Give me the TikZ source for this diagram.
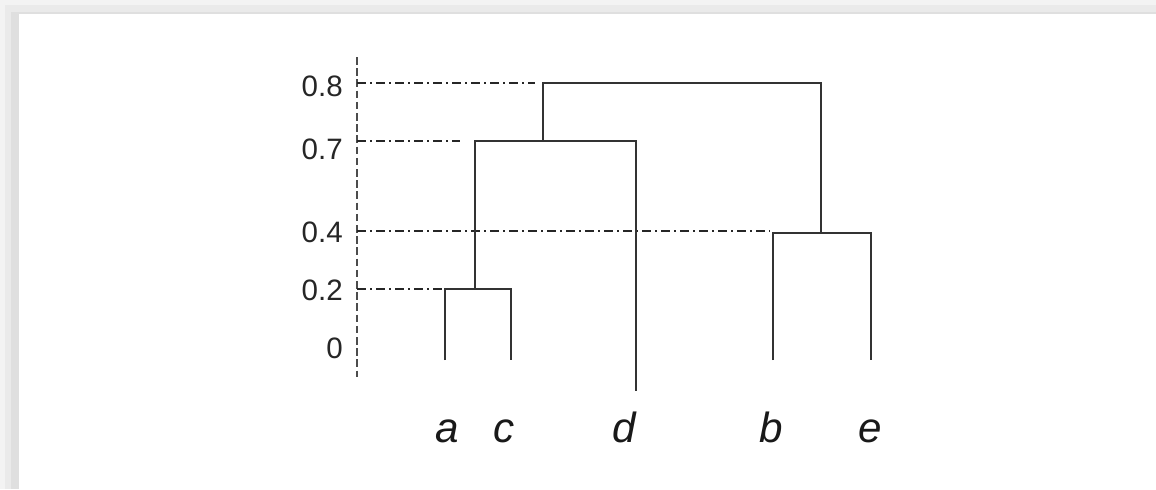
\documentclass[tikz,border=0pt]{standalone}
\usepackage{fontspec}
\setmainfont{Liberation Sans}
\definecolor{shadeA}{HTML}{F3F3F3}
\definecolor{shadeB}{HTML}{EAEAEA}
\definecolor{shadeC}{HTML}{DFDFDF}
\begin{document}
\begin{tikzpicture}[
  link/.style={line width=1.5pt, draw=black!80},
  guide/.style={line width=1pt, draw=black!85, dash pattern=on 0.225cm off 0.1cm on 0.05cm off 0.1cm},
  axisline/.style={line width=1.7pt, draw=black!70, dash pattern=on 0.19cm off 0.09cm},
  tick/.style={anchor=base east, inner sep=0pt, text=black!85, font=\fontsize{21}{21}\selectfont},
  leaf/.style={anchor=base, inner sep=0pt, text=black!90, font=\fontsize{30}{30}\selectfont\itshape}]
\useasboundingbox (0,0) rectangle (28.9,12.225);
\fill[shadeA] (0,0) rectangle (0.475,12.225);
\fill[shadeB] (0.125,0) rectangle (0.475,11.9);
\fill[shadeC] (0.275,0) rectangle (0.475,11.9);
\fill[shadeA] (0,11.875) rectangle (28.9,12.225);
\fill[shadeB] (0.125,11.875) rectangle (28.9,12.1);
\fill[shadeC] (0.275,11.875) rectangle (28.9,11.925);
\fill[white] (0.475,0) rectangle (28.9,11.875);
\coordinate (a) at (11.125,3.225);
\coordinate (c) at (12.775,3.225);
\coordinate (d) at (15.9,2.45);
\coordinate (b) at (19.325,3.225);
\coordinate (e) at (21.775,3.225);
\coordinate (m1) at (11.875,5.0);
\coordinate (m2) at (13.575,8.7);
\coordinate (m3) at (20.525,6.4);
\coordinate (root) at (17.0,10.15);
\coordinate (axtop) at (8.925,10.8);
\coordinate (axbot) at (8.925,2.8);
\coordinate (t8) at (8.925,10.15);
\coordinate (t7) at (8.925,8.7);
\coordinate (t4) at (8.925,6.45);
\coordinate (t2) at (8.925,5.0);
\coordinate (g8) at (13.375,10.15);
\coordinate (g7) at (11.5,8.7);
\coordinate (g4) at (19.25,6.45);
\coordinate (g2) at (11.125,5.0);
\draw[axisline] (axtop) -- (axbot);
\draw[guide] (t8) -- (g8);
\draw[guide] (t7) -- (g7);
\draw[guide] (t4) -- (g4);
\draw[guide] (t2) -- (g2);
\draw[link] (a) |- (m1) -| (c);
\draw[link] (m1) |- (m2) -| (d);
\draw[link] (b) |- (m3) -| (e);
\draw[link] (m2) |- (root) -| (m3);
\node[tick] (y8) at (8.575,9.825) {0.8};
\node[tick] (y7) at (8.575,8.25) {0.7};
\node[tick] (y4) at (8.575,6.175) {0.4};
\node[tick] (y2) at (8.575,4.725) {0.2};
\node[tick] (y0) at (8.575,3.275) {0};
\node[leaf] (la) at (11.175,1.175) {a};
\node[leaf] (lc) at (12.6,1.175) {c};
\node[leaf] (ld) at (15.6,1.175) {d};
\node[leaf] (lb) at (19.275,1.175) {b};
\node[leaf] (le) at (21.75,1.175) {e};
\end{tikzpicture}
\end{document}
